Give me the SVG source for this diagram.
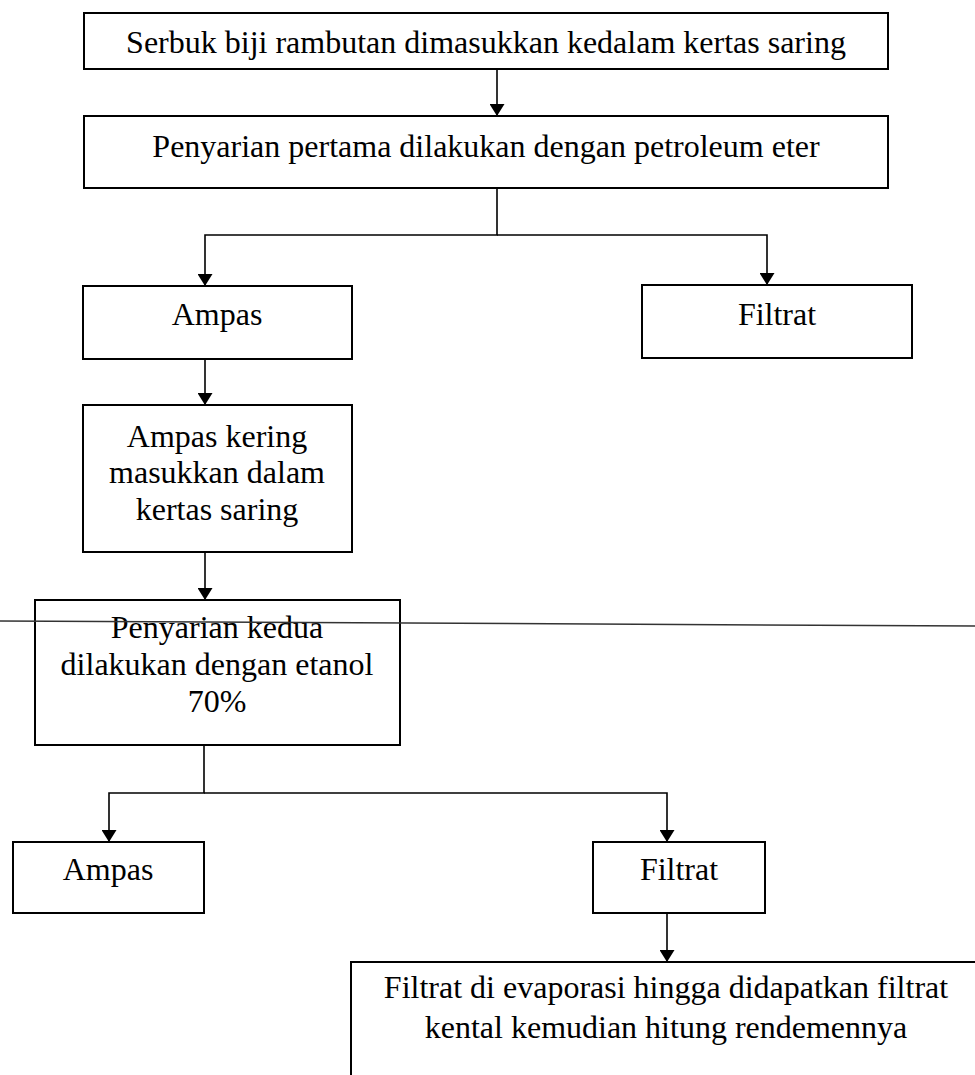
<svg xmlns="http://www.w3.org/2000/svg" width="975" height="1075" viewBox="0 0 975 1075">
<style>
.box{fill:#ffffff;stroke:#000000;stroke-width:2}
.lbl{font-family:"Liberation Serif","Times New Roman",serif;font-size:32px;fill:#000000;text-anchor:middle}
.con{fill:none;stroke:#000000;stroke-width:1.6}
</style>
<defs>
<marker id="ah" markerWidth="12" markerHeight="15" refX="12" refY="7.5" orient="auto" markerUnits="userSpaceOnUse" viewBox="0 0 12 15">
<path d="M0,0 L12,7.5 L0,15 Z" fill="#000000"/>
</marker>
</defs>
<rect width="975" height="1075" fill="#ffffff"/>
<g id="connectors">
<line class="con" x1="497" y1="69" x2="497" y2="116" marker-end="url(#ah)"/>
<polyline class="con" points="497,188 497,235 205,235 205,286" marker-end="url(#ah)"/>
<polyline class="con" points="497,235 767,235 767,285" marker-end="url(#ah)"/>
<line class="con" x1="205" y1="359" x2="205" y2="405" marker-end="url(#ah)"/>
<line class="con" x1="205" y1="552" x2="205" y2="600" marker-end="url(#ah)"/>
<polyline class="con" points="204,745 204,793 109,793 109,842" marker-end="url(#ah)"/>
<polyline class="con" points="204,793 667,793 667,842" marker-end="url(#ah)"/>
<line class="con" x1="667" y1="913" x2="667" y2="962" marker-end="url(#ah)"/>
</g>
<g id="n1">
<rect class="box" x="84" y="13" width="804" height="56"/>
<text class="lbl" x="486" y="53">Serbuk biji rambutan dimasukkan kedalam kertas saring</text>
</g>
<g id="n2">
<rect class="box" x="84" y="116" width="804" height="72"/>
<text class="lbl" x="486" y="157">Penyarian pertama dilakukan dengan petroleum eter</text>
</g>
<g id="n3">
<rect class="box" x="83" y="286" width="269" height="73"/>
<text class="lbl" x="217" y="325">Ampas</text>
</g>
<g id="n4">
<rect class="box" x="642" y="285" width="270" height="73"/>
<text class="lbl" x="777" y="325">Filtrat</text>
</g>
<g id="n5">
<rect class="box" x="83" y="405" width="269" height="147"/>
<text class="lbl" x="217" y="447">Ampas kering</text>
<text class="lbl" x="217" y="483">masukkan dalam</text>
<text class="lbl" x="217" y="520">kertas saring</text>
</g>
<g id="n6">
<rect class="box" x="35" y="600" width="365" height="145"/>
<text class="lbl" x="217" y="638">Penyarian kedua</text>
<text class="lbl" x="217" y="675">dilakukan dengan etanol</text>
<text class="lbl" x="217" y="712">70%</text>
</g>
<g id="n7">
<rect class="box" x="13" y="842" width="191" height="71"/>
<text class="lbl" x="108" y="880">Ampas</text>
</g>
<g id="n8">
<rect class="box" x="593" y="842" width="172" height="71"/>
<text class="lbl" x="679" y="880">Filtrat</text>
</g>
<g id="n9">
<rect class="box" x="351" y="962" width="700" height="200"/>
<text class="lbl" x="666" y="998">Filtrat di evaporasi hingga didapatkan filtrat</text>
<text class="lbl" x="666" y="1038">kental kemudian hitung rendemennya</text>
</g>
<line x1="0" y1="621" x2="975" y2="626" stroke="#333333" stroke-width="1.5"/>
</svg>
